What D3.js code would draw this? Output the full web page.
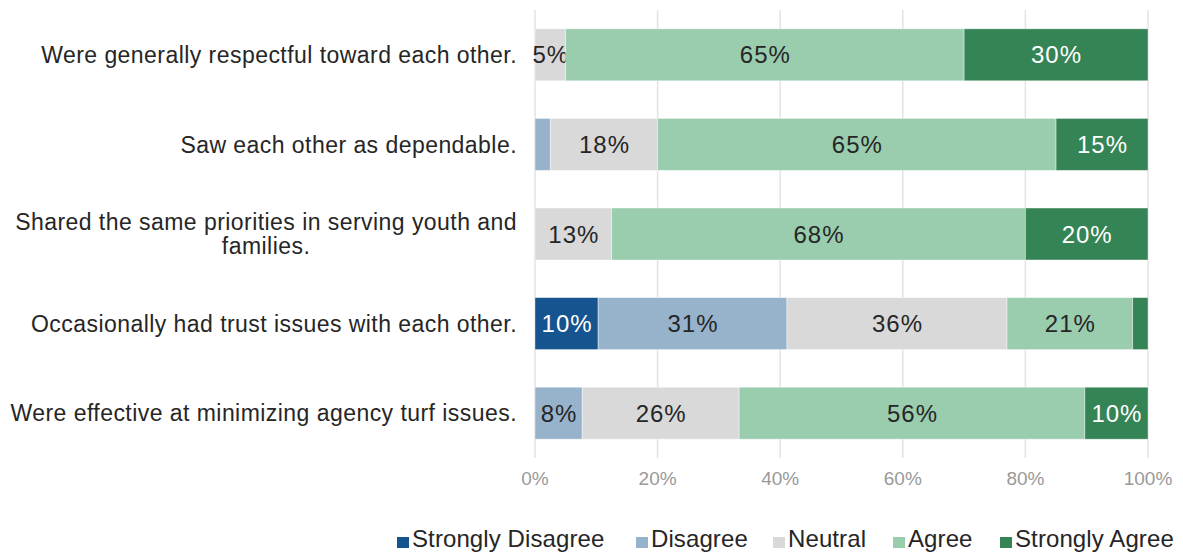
<!DOCTYPE html>
<html>
<head>
<meta charset="utf-8">
<script src="https://cdn.jsdelivr.net/npm/d3@7"></script>
<style>
  html, body { margin: 0; padding: 0; background: #fff; }
  svg { display: block; font-family: "Liberation Sans", Arial, Helvetica, sans-serif; }
</style>
</head>
<body>
<svg id="chart" width="1183" height="552"></svg>
<script>
const categories = [
  "Were generally respectful toward each other.",
  "Saw each other as dependable.",
  "Shared the same priorities in serving youth and families.",
  "Occasionally had trust issues with each other.",
  "Were effective at minimizing agency turf issues."
];
const seriesNames = ["Strongly Disagree", "Disagree", "Neutral", "Agree", "Strongly Agree"];
const stronglyDisagree = [0, 0, 0, 10.3, 0];
const disagree = [0, 2.5, 0, 30.8, 7.7];
const neutral = [5, 17.5, 12.5, 35.9, 25.6];
const agree = [65, 65, 67.5, 20.5, 56.4];
const stronglyAgree = [30, 15, 20, 2.5, 10.3];
const tickValues = [0, 20, 40, 60, 80, 100];
const colors = ["#15548f", "#97b3cc", "#d9d9d9", "#99cdae", "#358455"];
const textColors = ["#ffffff", "#262626", "#262626", "#262626", "#ffffff"];

const seriesValues = [stronglyDisagree, disagree, neutral, agree, stronglyAgree];
const rows = categories.map((c, i) => {
  const r = { category: c };
  seriesNames.forEach((s, j) => r[s] = seriesValues[j][i]);
  return r;
});
const stacked = d3.stack().keys(seriesNames)(rows);

const svg = d3.select("#chart");
const x = d3.scaleLinear().domain([0, 100]).range([535, 1148]);
const y = d3.scaleBand().domain(categories).range([10, 458]).paddingInner(0.42).paddingOuter(0.21);

// gridlines
svg.append("g").selectAll("line").data(tickValues).join("line")
  .attr("x1", d => x(d)).attr("x2", d => x(d))
  .attr("y1", 10).attr("y2", 458)
  .attr("stroke", "#e3e3e3").attr("stroke-width", 1.5);

// bars
const g = svg.append("g");
stacked.forEach((layer, j) => {
  g.append("g").selectAll("rect").data(layer).join("rect")
    .attr("x", d => x(d[0]))
    .attr("y", d => y(d.data.category))
    .attr("width", d => x(d[1]) - x(d[0]))
    .attr("height", y.bandwidth())
    .attr("fill", colors[j])
    .attr("stroke", "#ffffff").attr("stroke-opacity", 0.5).attr("stroke-width", 0.8);
  g.append("g").selectAll("text").data(layer.filter(d => d[1] - d[0] >= 4)).join("text")
    .attr("x", d => (x(d[0]) + x(d[1])) / 2 + 0.5)
    .attr("y", d => y(d.data.category) + y.bandwidth() / 2)
    .attr("dy", "0.36em")
    .attr("text-anchor", "middle")
    .attr("fill", textColors[j])
    .attr("font-size", 24)
    .attr("letter-spacing", 1)
    .text(d => Math.round(d[1] - d[0]) + "%");
});

// category labels
const labelG = svg.append("g");
const wrapLines = {
  "Shared the same priorities in serving youth and families.": ["Shared the same priorities in serving youth and", "families."]
};
const catFont = 23, catSpacing = 0.45;
categories.forEach(c => {
  const lines = wrapLines[c] || [c];
  const cy = y(c) + y.bandwidth() / 2;
  const t = labelG.append("text").attr("font-size", catFont).attr("letter-spacing", catSpacing).attr("fill", "#262626");
  if (lines.length === 1) {
    t.attr("x", 517).attr("y", cy).attr("dy", "0.36em").attr("text-anchor", "end").text(lines[0]);
  } else {
    const tmp = labelG.append("text").attr("font-size", catFont).attr("letter-spacing", catSpacing).text(lines[0]);
    const w = tmp.node().getComputedTextLength();
    tmp.remove();
    const cx = 517 - w / 2;
    const lh = 24;
    lines.forEach((ln, k) => {
      t.append("tspan").attr("x", cx).attr("y", cy + (k - (lines.length - 1) / 2) * lh)
        .attr("dy", "0.36em").attr("text-anchor", "middle").text(ln);
    });
  }
});

// x axis tick labels
svg.append("g").selectAll("text").data(tickValues).join("text")
  .attr("x", d => x(d)).attr("y", 478).attr("dy", "0.36em")
  .attr("text-anchor", "middle").attr("fill", "#999999").attr("font-size", 19)
  .text(d => d + "%");

// legend
const legendX = [397, 636, 773, 893, 1000];
const leg = svg.append("g");
seriesNames.forEach((s, j) => {
  leg.append("rect").attr("x", legendX[j]).attr("y", 537).attr("width", 12).attr("height", 11).attr("fill", colors[j]);
  leg.append("text").attr("x", legendX[j] + 15).attr("y", 546.5)
    .attr("font-size", 24).attr("letter-spacing", 0.1).attr("fill", "#262626").text(s);
});
</script>
</body>
</html>
